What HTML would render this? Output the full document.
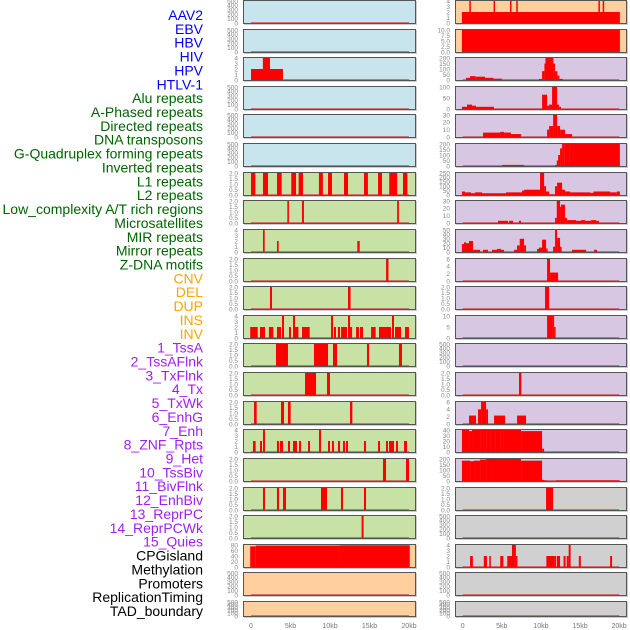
<!DOCTYPE html>
<html><head><meta charset="utf-8"><style>
body{margin:0;background:#fff;}
svg{display:block;font-family:"Liberation Sans",sans-serif;}
</style></head><body>
<svg id="chart" width="630" height="630" viewBox="0 0 630 630" xmlns="http://www.w3.org/2000/svg"></svg>
<script>
// ---- track labels ----
const trackLabels = ["AAV2","EBV","HBV","HIV","HPV","HTLV-1","Alu repeats","A-Phased repeats","Directed repeats","DNA transposons","G-Quadruplex forming repeats","Inverted repeats","L1 repeats","L2 repeats","Low_complexity A/T rich regions","Microsatellites","MIR repeats","Mirror repeats","Z-DNA motifs","CNV","DEL","DUP","INS","INV","1_TssA","2_TssAFlnk","3_TxFlnk","4_Tx","5_TxWk","6_EnhG","7_Enh","8_ZNF_Rpts","9_Het","10_TssBiv","11_BivFlnk","12_EnhBiv","13_ReprPC","14_ReprPCWk","15_Quies","CPGisland","Methylation","Promoters","ReplicationTiming","TAD_boundary"];
const labelGroups = ["v","v","v","v","v","v","r","r","r","r","r","r","r","r","r","r","r","r","r","s","s","s","s","s","c","c","c","c","c","c","c","c","c","c","c","c","c","c","c","k","k","k","k","k"];
const xTickValues = [0,5,10,15,20];
const xTickLabels = ["0","5kb","10kb","15kb","20kb"];

// ---- y tick sets ----
const ticks500 = [0,100,200,300,400,500];
const ticks4 = [0,1,2,3,4];
const ticks2 = [0,0.5,1,1.5,2];

// ---- left column series: [startKb, endKb, value] ----
const hivBars = [[0,4.05,2],[1.5,2.4,4]];
const leftRow7 = [[0,0.55,2],[1.52,2.15,2],[3.29,3.88,2],[5.1,5.7,2],[6.03,6.58,2],[8.6,9.1,2],[9.75,10.25,2],[11.77,12.28,2],[14.3,14.8,2],[16.08,16.58,2],[17.5,18.5,2],[19.24,19.79,2]];
const leftRow8 = [[4.6,4.8,2],[6.45,6.7,2],[18.5,18.72,2]];
const leftRow9 = [[1.52,1.73,4],[3.29,3.5,2],[13.46,13.76,2]];
const leftRow10 = [[17.1,17.4,2]];
const leftRow11 = [[2.4,2.66,2],[12.28,12.6,2]];
const leftRow12 = [[-0.1,0.85,2],[1.14,1.77,2],[2.27,2.83,2],[3.29,3.8,2],[3.92,4.18,4],[4.81,5.06,2],[5.32,5.57,4],[5.57,6.0,2],[6.46,7.43,2],[10.13,10.38,4],[10.5,10.76,2],[11.0,11.27,2],[11.4,12.15,2],[12.28,12.54,4],[12.54,12.8,2],[13.3,13.67,2],[13.8,14.18,2],[15.2,15.78,2],[16.2,17.72,2],[17.85,18.1,4],[18.23,18.99,2],[19.5,19.99,2]];
const leftRow13 = [[3.16,4.68,2],[7.97,9.75,2],[10.38,10.89,2],[14.68,14.94,2],[18.73,19.11,2]];
const leftRow14 = [[6.84,8.23,2],[9.62,10.0,2]];
const leftRow15 = [[0.38,0.72,2],[3.8,4.18,2],[4.68,5.02,2],[12.53,12.83,2]];
const leftRow16 = [[0.25,0.59,2],[1.14,1.39,2],[1.52,1.77,4],[3.29,3.54,2],[3.67,4.05,2],[4.68,4.94,2],[5.32,5.82,2],[6.08,6.33,2],[7.22,7.47,2],[8.61,8.86,4],[9.75,10.0,2],[10.25,10.5,2],[11.01,11.27,2],[11.65,11.9,2],[12.03,12.28,2],[14.3,14.56,2],[16.08,16.33,2],[17.09,17.34,2],[17.47,18.1,2],[18.35,18.6,2],[19.37,19.75,2]];
const leftRow17 = [[16.71,17.09,2],[19.62,20.0,2]];
const leftRow18 = [[1.52,1.77,2],[3.29,3.54,2],[4.05,4.43,2],[8.86,9.62,2],[11.39,11.65,2],[14.3,14.56,2]];
const leftRow19 = [[14.0,14.25,2]];
const cpgBars = [[-0.1,0.6,75],[0.6,11.2,78],[11.2,20.1,79]];

// ---- right column series ----
const rightRow1 = [[-0.1,20.1,2],[0.85,1.0,4],[3.95,4.1,4],[6.05,6.2,4],[6.85,7.0,4],[17.35,17.5,4],[17.9,18.05,4]];
const rightRow2 = [[-0.1,20.1,10]];
const rightRow3 = [[0.43,0.94,20],[0.94,1.66,35],[1.66,2.86,30],[2.86,3.92,20],[3.92,5.0,12],[9.76,10.15,10],[10.15,10.45,80],[10.45,10.58,150],[10.58,11.6,230],[11.6,11.81,150],[11.81,12.11,80],[12.11,12.37,40],[12.37,12.8,10]];
const rightRow4 = [[-0.1,0.55,10],[0.55,1.19,20],[1.19,1.7,15],[1.7,4.0,10],[10.15,10.79,65],[10.79,11.05,15],[11.05,11.43,20],[11.43,12.07,140],[12.07,12.33,20],[12.33,12.58,10]];
const rightRow5 = [[2.6,4.78,6],[4.78,5.29,7],[5.29,6.18,6],[6.18,7.46,4],[10.79,11.05,10],[11.05,11.56,15],[11.56,12.07,32],[12.07,12.45,15],[12.45,13.09,10],[13.09,13.99,4]];
const rightRow6 = [[5.03,7.85,10],[11.81,12.03,10],[12.03,12.2,50],[12.2,12.45,100],[12.45,12.71,160],[12.71,12.97,200],[12.97,13.6,220],[13.6,20.1,235]];
const rightRow7 = [[-0.1,0.3,40],[0.3,1.07,30],[1.07,1.58,20],[1.58,2.47,30],[2.47,5.54,20],[5.54,7.59,30],[7.59,7.85,50],[7.85,9.89,60],[9.89,10.41,250],[10.41,10.66,100],[10.66,11.05,40],[11.05,11.81,5],[11.81,12.07,100],[12.07,12.71,140],[12.71,13.09,60],[13.09,13.73,40],[13.73,16.29,30],[16.29,16.72,25],[16.72,18.85,40],[18.85,19.7,30],[19.7,20.1,40]];
const rightRow8 = [[4.52,5.8,3],[5.93,6.44,3],[7.2,7.46,3],[11.81,12.03,7],[12.03,12.45,33],[12.45,12.58,22],[12.58,13.09,25],[13.09,13.35,7],[13.35,14.5,4],[14.5,15.14,3],[15.14,15.65,4],[15.65,16.42,3],[16.42,17.06,4],[17.06,17.44,3]];
const rightRow9 = [[-0.1,0.17,18],[0.17,0.43,22],[0.43,0.81,20],[0.81,1.32,25],[1.32,2.22,5],[2.6,3.24,5],[3.75,4.39,5],[4.39,4.9,7],[4.9,5.29,5],[6.57,6.95,5],[6.95,7.29,15],[7.29,7.85,30],[7.85,8.1,15],[9.51,9.76,7],[9.76,10.15,10],[10.15,10.66,28],[10.66,10.79,8],[11.56,11.81,12],[11.81,12.07,50],[12.07,12.45,32],[12.45,12.58,12],[13.99,15.78,5],[16.8,17.18,5]];
const rightRow10 = [[10.79,11.17,6.5],[11.17,12.2,2.3]];
const rightRow11 = [[10.53,11.05,2]];
const rightRow12 = [[10.79,11.43,14],[11.43,11.69,10],[11.69,11.81,5]];
const rightRow14 = [[7.2,7.5,2]];
const rightRow15 = [[0.81,1.7,2.3],[1.96,2.35,4],[2.35,2.99,6.5],[2.99,3.24,4],[4.01,5.42,2.3],[6.95,8.1,2.3]];
const rightRow16 = [[-0.1,0.81,44],[0.81,1.19,38],[1.19,1.7,44],[1.7,2.22,47],[2.22,2.6,42],[2.6,2.99,40],[2.99,3.5,45],[3.5,4.14,43],[4.14,4.78,40],[4.78,5.16,42],[5.16,6.82,44],[6.82,7.2,42],[7.2,7.46,40],[7.46,10.15,38],[10.15,10.41,6]];
const rightRow17 = [[-0.1,0.94,185],[0.94,1.45,180],[1.45,2.22,185],[2.22,2.99,195],[2.99,3.75,200],[3.75,6.82,215],[6.82,7.46,200],[7.46,10.15,185],[10.15,10.41,10],[10.41,10.79,5],[11.94,20.1,5]];
const rightRow18 = [[10.66,11.56,2]];
const rightRow20 = [[0.94,1.3,2],[2.7,3.1,2],[3.4,3.6,2],[4.8,5.2,2],[5.7,6.3,2],[6.3,6.8,4],[6.8,7.0,2],[10.7,11.7,2],[11.7,11.95,2],[12.05,12.45,2],[12.9,13.15,2],[13.3,13.55,2],[13.55,13.8,4],[14.85,15.1,2],[18.85,19.1,2]];

const BLUE="#c8e4ec", GREEN="#c8e1a5", ORANGE="#ffcf9d", PURPLE="#d7c7e3", GRAY="#d0d0d0";
// panels: [column, row, background, ticks, tickDecimals, bars]
const panels = [
 [0,0,BLUE,ticks500,0,[]],[0,1,BLUE,ticks500,0,[]],[0,2,BLUE,ticks4,0,hivBars],[0,3,BLUE,ticks500,0,[]],[0,4,BLUE,ticks500,0,[]],[0,5,BLUE,ticks500,0,[]],
 [0,6,GREEN,ticks2,1,leftRow7],[0,7,GREEN,ticks2,1,leftRow8],[0,8,GREEN,ticks4,0,leftRow9],[0,9,GREEN,ticks2,1,leftRow10],[0,10,GREEN,ticks2,1,leftRow11],[0,11,GREEN,ticks4,0,leftRow12],[0,12,GREEN,ticks2,1,leftRow13],[0,13,GREEN,ticks2,1,leftRow14],[0,14,GREEN,ticks2,1,leftRow15],[0,15,GREEN,ticks4,0,leftRow16],[0,16,GREEN,ticks2,1,leftRow17],[0,17,GREEN,ticks2,1,leftRow18],[0,18,GREEN,ticks2,1,leftRow19],
 [0,19,ORANGE,[0,20,40,60,80],0,cpgBars],[0,20,ORANGE,ticks500,0,[]],[0,21,ORANGE,ticks500,0,[]],
 [1,0,ORANGE,ticks4,0,rightRow1],[1,1,ORANGE,[0,2.5,5,7.5,10],1,rightRow2],
 [1,2,PURPLE,[0,50,100,150,200],0,rightRow3],[1,3,PURPLE,[0,50,100],0,rightRow4],[1,4,PURPLE,[0,10,20,30],0,rightRow5],[1,5,PURPLE,[0,50,100,150,200],0,rightRow6],[1,6,PURPLE,[0,50,100,150,200,250],0,rightRow7],[1,7,PURPLE,[0,10,20,30],0,rightRow8],[1,8,PURPLE,[0,10,20,30,40,50],0,rightRow9],[1,9,PURPLE,[0,2,4,6],0,rightRow10],[1,10,PURPLE,ticks2,1,rightRow11],[1,11,PURPLE,[0,5,10],0,rightRow12],[1,12,PURPLE,ticks500,0,[]],[1,13,PURPLE,ticks2,1,rightRow14],[1,14,PURPLE,[0,2,4,6],0,rightRow15],[1,15,PURPLE,[0,10,20,30,40],0,rightRow16],[1,16,PURPLE,[0,50,100,150,200],0,rightRow17],
 [1,17,GRAY,ticks2,1,rightRow18],[1,18,GRAY,ticks500,0,[]],[1,19,GRAY,ticks4,0,rightRow20],[1,20,GRAY,ticks500,0,[]],[1,21,GRAY,ticks500,0,[]]
];

const NS="http://www.w3.org/2000/svg";
const svg=document.getElementById('chart');
function mk(tag,attrs,parent){const e=document.createElementNS(NS,tag);for(const k in attrs)e.setAttribute(k,attrs[k]);(parent||svg).appendChild(e);return e;}
const colColor={v:"#0000ff",r:"#006400",s:"#ffa500",c:"#a020f0",k:"#000000"};

// track labels
trackLabels.forEach((t,i)=>{
  const el=mk('text',{x:203,y:(20+i*13.86).toFixed(1),'text-anchor':'end','font-size':'14',fill:colColor[labelGroups[i]]});
  
  
  el.textContent=t;
});

const colLeft=[243,455], colW=[173,172], zeroX=[251,462.7], pxPerKb=[7.9,7.82];
function xScale(c,kb){return zeroX[c]+kb*pxPerKb[c];}
function rowTop(r){return Math.round(r*28.62);}
function rowH(r){return r===21?16:24;}

panels.forEach(p=>{
  const [c,r,bg,ticks,dec,bars]=p;
  const top=rowTop(r), h=rowH(r), L=colLeft[c], W=colW[c];
  const maxT=ticks[ticks.length-1];
  const y0=top+h-1, y1=top+1;
  const yScale=v=>y0-(v/maxT)*(y0-y1);
  const g=mk('g',{});
  
  
  const clipId='clip'+c+'_'+r;
  const cp=mk('clipPath',{id:clipId},g);
  mk('rect',{x:L,y:top,width:W,height:h},cp);
  mk('rect',{x:L+1,y:top+1,width:W,height:h,fill:'#999','opacity':0.5},g);
  const bgr=mk('rect',{x:L,y:top,width:W,height:h,fill:bg},g);
  
  
  const inner=mk('g',{'clip-path':'url(#'+clipId+')'},g);
  const base=mk('line',{x1:xScale(c,0),x2:xScale(c,20.0),y1:y0,y2:y0,stroke:'rgba(205,80,80,0.75)','stroke-width':2},inner);
  
  
  bars.forEach(b=>{
    const xa=xScale(c,b[0]), xb=xScale(c,b[1]), yt=yScale(b[2]);
    const rc=mk('rect',{x:xa.toFixed(2),y:yt.toFixed(2),width:Math.max(1.5,xb-xa).toFixed(2),height:Math.max(0,y0+1-yt).toFixed(2),fill:'#ff0000'},inner);
    
    
  });
  mk('rect',{x:L+0.5,y:top+0.5,width:W-1,height:h-1,fill:'none',stroke:'#555','stroke-width':1},g);
  ticks.forEach(t=>{
    const tl=mk('text',{x:L-5,y:(yScale(t)+2.3).toFixed(1),'text-anchor':'end','font-size':'6.5',fill:'#888'},g);
    
    
    tl.textContent=t.toFixed(dec);
  });
});

// x axes
[0,1].forEach(c=>{
  xTickValues.forEach((v,i)=>{
    const t=mk('text',{x:xScale(c,v).toFixed(1),y:628,'text-anchor':'middle','font-size':'7',fill:'#777'});
    
    
    t.textContent=xTickLabels[i];
  });
});
</script>
</body></html>
